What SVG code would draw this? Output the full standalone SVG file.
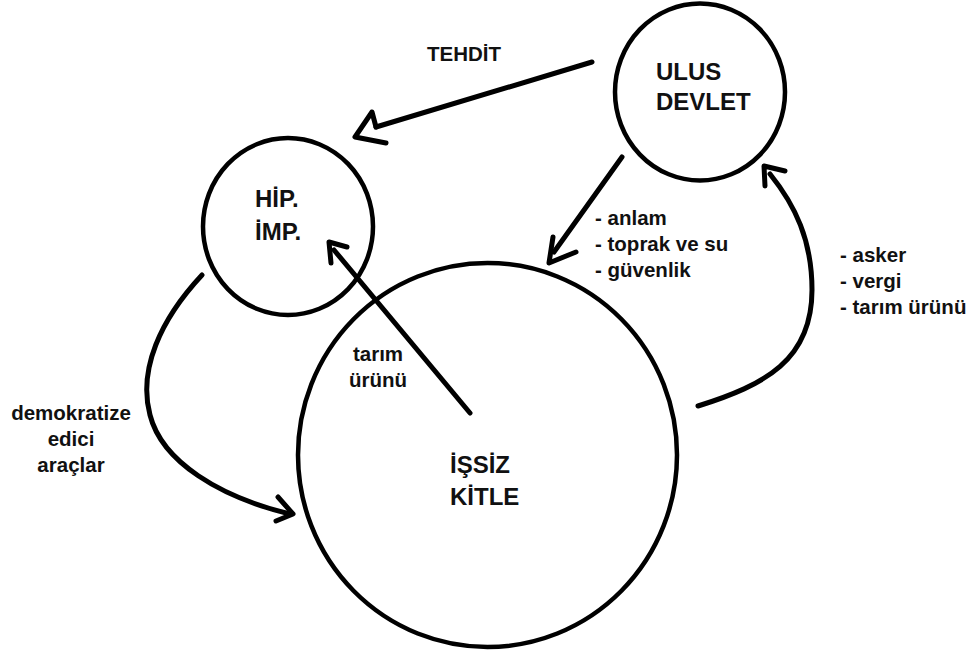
<svg xmlns="http://www.w3.org/2000/svg" width="975" height="657" viewBox="0 0 975 657">
  <style>
    .node { fill: none; stroke: #000; stroke-width: 4.5; }
    .conn { fill: none; stroke: #000; stroke-width: 5; stroke-linecap: round; stroke-linejoin: round; }
    .big { font-family: "Liberation Sans", Arial, sans-serif; font-weight: bold; font-size: 24px; fill: #111; }
    .lbl { font-family: "Liberation Sans", Arial, sans-serif; font-weight: bold; font-size: 20.5px; fill: #111; }
  </style>
  <rect width="975" height="657" fill="#fff"/>

  <g id="connectors">
    <path class="conn" d="M592,62 L376,127"/>
    <path class="conn" d="M376,127 L372,112 L355,137 L386,143"/>
    <path class="conn" d="M622,157 L554,252"/>
    <path class="conn" d="M553,237 L549,263 L576,252"/>
    <path class="conn" d="M698,406 C765,385 812,360 812,290 C812,240 795,205 770,174"/>
    <path class="conn" d="M765,186 L764,166 L785,171"/>
    <path class="conn" d="M470,413 L334,250"/>
    <path class="conn" d="M331,263 L329,242 L347,247"/>
    <path class="conn" d="M202,275 C160,320 138,370 150,415 C162,462 220,497 290,514"/>
    <path class="conn" d="M278,497 L293,514 L276,521"/>
  </g>

  <g id="ulus-devlet">
    <ellipse class="node" cx="700" cy="92" rx="85" ry="88.5"/>
    <text class="big" x="656" y="80">ULUS</text>
    <text class="big" x="656" y="110">DEVLET</text>
  </g>

  <g id="hip-imp">
    <ellipse class="node" cx="288" cy="226.5" rx="85" ry="88.5"/>
    <text class="big" x="255" y="207">HİP.</text>
    <text class="big" x="255" y="240">İMP.</text>
  </g>

  <g id="issiz-kitle">
    <ellipse class="node" cx="487.5" cy="455" rx="189.5" ry="192"/>
    <text class="big" x="450" y="473">İŞSİZ</text>
    <text class="big" x="450" y="505">KİTLE</text>
  </g>

  <g id="labels">
    <text class="lbl" x="427" y="61">TEHDİT</text>
    <text class="lbl" x="595" y="225">- anlam</text>
    <text class="lbl" x="595" y="251">- toprak ve su</text>
    <text class="lbl" x="595" y="277">- güvenlik</text>
    <text class="lbl" x="840" y="262">- asker</text>
    <text class="lbl" x="840" y="288">- vergi</text>
    <text class="lbl" x="840" y="314">- tarım ürünü</text>
    <text class="lbl" x="378" y="361" text-anchor="middle">tarım</text>
    <text class="lbl" x="378" y="387" text-anchor="middle">ürünü</text>
    <text class="lbl" x="71" y="420" text-anchor="middle">demokratize</text>
    <text class="lbl" x="71" y="446" text-anchor="middle">edici</text>
    <text class="lbl" x="71" y="472" text-anchor="middle">araçlar</text>
  </g>
</svg>
